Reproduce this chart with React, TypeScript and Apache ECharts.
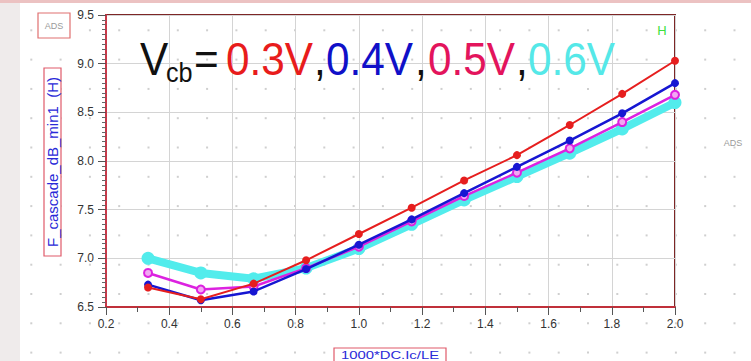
import React, { useEffect, useRef } from "react";
import * as echarts from "echarts";

const xValues = [0.333, 0.5, 0.667, 0.833, 1.0, 1.167, 1.333, 1.5, 1.667, 1.833, 2.0];
const vcb03 = [6.70, 6.58, 6.74, 6.98, 7.25, 7.52, 7.80, 8.06, 8.37, 8.69, 9.03];
const vcb04 = [6.73, 6.57, 6.66, 6.89, 7.14, 7.40, 7.67, 7.94, 8.21, 8.49, 8.80];
const vcb05 = [6.85, 6.68, 6.71, 6.90, 7.12, 7.38, 7.64, 7.88, 8.13, 8.40, 8.68];
const vcb06 = [7.00, 6.85, 6.79, 6.90, 7.10, 7.35, 7.60, 7.84, 8.08, 8.33, 8.60];
const seriesNames = ["0.3V", "0.4V", "0.5V", "0.6V"];
const yAxisName = "F_cascade_dB_min1  (H)";
const xAxisName = "1000*DC.Ic/LE";

const FONT = "Liberation Sans, Arial, sans-serif";

function pairs(ys: number[]) {
  return xValues.map((x, i) => [x, ys[i]]);
}

export default function App() {
  const ref = useRef<HTMLDivElement>(null);
  useEffect(() => {
    if (!ref.current) return;
    const chart = echarts.init(ref.current, null, { renderer: "svg" });

    const dots: any[] = [];
    for (let i = 0; i < 26; i++) {
      for (let j = 0; j < 13; j++) {
        dots.push({
          type: "rect",
          silent: true,
          z: -10,
          shape: { x: 1 + i * 29.3, y: j * 29.3, width: 2, height: 2 },
          style: { fill: "#cfcfcf" },
        });
      }
    }

    const big = 47;
    const sx = 0.9;
    const titleY = 59;
    const mk = (text: string, x: number, color: string, size = big, y = titleY) => ({
      type: "text",
      x,
      y,
      scaleX: sx,
      z: 50,
      style: {
        text,
        x: 0,
        y: 0,
        fill: color,
        font: `${size}px ${FONT}`,
        align: "left",
        verticalAlign: "middle",
      },
    });

    const option: any = {
      animation: false,
      backgroundColor: "#ffffff",
      grid: {
        left: 106,
        right: 76,
        top: 15,
        bottom: 54,
        show: true,
        borderColor: "#7d2626",
        borderWidth: 2,
        backgroundColor: "transparent",
      },
      xAxis: {
        type: "value",
        min: 0.2,
        max: 2.0,
        interval: 0.2,
        axisLine: { show: true, onZero: false, lineStyle: { color: "#c0303a", width: 2 } },
        axisTick: { show: true, length: 8, lineStyle: { color: "#555", width: 1 } },
        minorTick: { show: true, splitNumber: 2, length: 5, lineStyle: { color: "#555" } },
        splitLine: { show: true, lineStyle: { color: "#d4d4d4", width: 1 } },
        axisLabel: {
          formatter: (v: number) => v.toFixed(1),
          color: "#333",
          fontSize: 12,
          fontFamily: FONT,
          margin: 11,
        },
      },
      yAxis: {
        type: "value",
        min: 6.5,
        max: 9.5,
        interval: 0.5,
        axisLine: { show: true, onZero: false, lineStyle: { color: "#c83848", width: 2 } },
        axisTick: { show: true, length: 8, lineStyle: { color: "#555", width: 1 } },
        minorTick: { show: true, splitNumber: 10, length: 4, lineStyle: { color: "#666" } },
        splitLine: { show: true, lineStyle: { color: "#d4d4d4", width: 1 } },
        axisLabel: {
          formatter: (v: number) => v.toFixed(1),
          color: "#333",
          fontSize: 12,
          fontFamily: FONT,
          margin: 12,
        },
      },
      series: [
        {
          name: seriesNames[3],
          type: "line",
          data: pairs(vcb06),
          z: 2,
          lineStyle: { color: "#52ecec", width: 8 },
          itemStyle: { color: "#52ecec" },
          symbol: "circle",
          symbolSize: 13,
        },
        {
          name: seriesNames[2],
          type: "line",
          data: pairs(vcb05),
          z: 3,
          lineStyle: { color: "#dc22e0", width: 2.5 },
          itemStyle: { color: "#f2a8f2", borderColor: "#dc22e0", borderWidth: 2 },
          symbol: "circle",
          symbolSize: 8,
        },
        {
          name: seriesNames[1],
          type: "line",
          data: pairs(vcb04),
          z: 4,
          lineStyle: { color: "#1616d2", width: 2.5 },
          itemStyle: { color: "#1616d2" },
          symbol: "circle",
          symbolSize: 8,
        },
        {
          name: seriesNames[0],
          type: "line",
          data: pairs(vcb03),
          z: 5,
          lineStyle: { color: "#e61e1e", width: 2 },
          itemStyle: { color: "#e61e1e" },
          symbol: "circle",
          symbolSize: 8,
        },
      ],
      graphic: [
        { type: "rect", silent: true, z: -5, shape: { x: 0, y: 0, width: 20, height: 361 }, style: { fill: "#efebeb" } },
        { type: "rect", silent: true, z: -5, shape: { x: 0, y: 0, width: 751, height: 3 }, style: { fill: "#ecc2c2" } },
        ...dots,
        // ADS boxes
        { type: "rect", silent: true, z: 5, shape: { x: 38, y: 13, width: 32, height: 25 }, style: { fill: "#fff", stroke: "#e07070", lineWidth: 1.2 } },
        { type: "text", silent: true, z: 6, x: 54, y: 26, style: { text: "ADS", fill: "#9a9a9a", font: `9px ${FONT}`, align: "center", verticalAlign: "middle" } },
        { type: "text", silent: true, z: 6, x: 733, y: 143, style: { text: "ADS", fill: "#9a9a9a", font: `9px ${FONT}`, align: "center", verticalAlign: "middle" } },
        // H marker
        { type: "text", silent: true, z: 6, x: 662, y: 30, style: { text: "H", fill: "#3ee03e", font: `13px ${FONT}`, align: "center", verticalAlign: "middle" } },
        // y axis name box
        { type: "rect", silent: true, z: 5, shape: { x: 44, y: 68, width: 17, height: 188 }, style: { fill: "#fff", stroke: "#e05a6a", lineWidth: 1.2 } },
        {
          type: "text", silent: true, z: 6, x: 52.5, y: 162, rotation: Math.PI / 2,
          style: { text: yAxisName, fill: "#2a2ad8", font: `15px ${FONT}`, align: "center", verticalAlign: "middle" },
        },
        // x axis name box
        { type: "rect", silent: true, z: 5, shape: { x: 334, y: 348, width: 112, height: 20 }, style: { fill: "#fff", stroke: "#e05a6a", lineWidth: 1.2 } },
        {
          type: "text", silent: true, z: 6, x: 390, y: 355, scaleX: 1.35,
          style: { text: xAxisName, x: 0, y: 0, fill: "#2a2ad8", font: `11px ${FONT}`, align: "center", verticalAlign: "middle" },
        },
        // title
        mk("V", 140, "#111111"),
        mk("cb", 166, "#111111", 28, 73),
        mk("=", 194, "#111111"),
        mk("0.3V", 226, "#e81c1c"),
        mk(",", 314, "#111111"),
        mk("0.4V", 326, "#1010c8"),
        mk(",", 415, "#111111"),
        mk("0.5V", 428, "#e3145c"),
        mk(",", 516, "#111111"),
        mk("0.6V", 528, "#55e8e8"),
      ],
    };
    chart.setOption(option);
    return () => chart.dispose();
  }, []);
  return (
    <div
      ref={ref}
      style={{ position: "absolute", left: 0, top: 0, width: 751, height: 361 }}
    />
  );
}
